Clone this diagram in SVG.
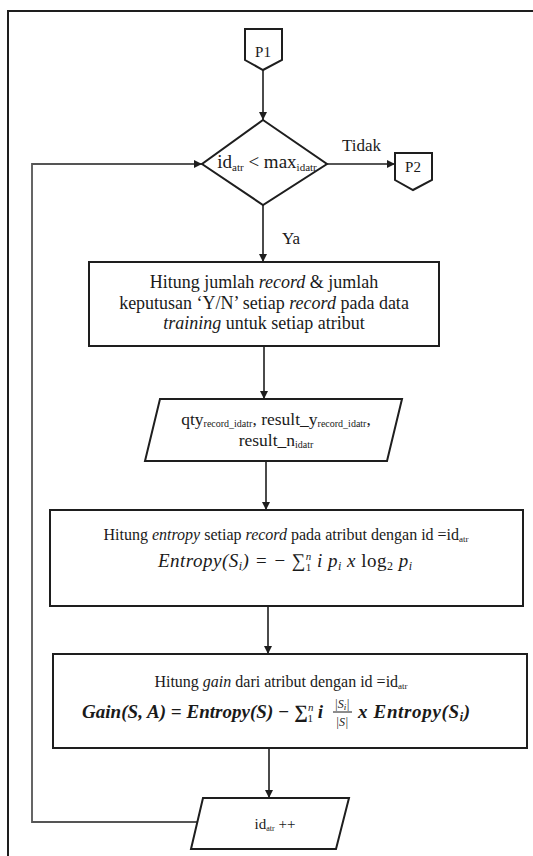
<svg xmlns="http://www.w3.org/2000/svg" width="533" height="856" viewBox="0 0 533 856">
  <style>
    .shape { fill: #ffffff; stroke: #1e1e1e; stroke-width: 2; }
    .wire { fill: none; stroke: #1e1e1e; stroke-width: 1.6; }
    .loop { fill: none; stroke: #555; stroke-width: 1.8; }
    .t { font-family: "Liberation Serif", "Times New Roman", "DejaVu Serif", serif; fill: #1a1a1a; }
    .m { font-family: "Liberation Serif", "Times New Roman", "DejaVu Serif", serif; font-style: italic; fill: #1a1a1a; }
    .i { font-style: italic; }
  </style>
  <defs>
    <marker id="arrow" markerUnits="userSpaceOnUse" markerWidth="9" markerHeight="9" refX="8" refY="4" orient="auto">
      <path d="M0,0 L8,4 L0,8 z" fill="#1e1e1e"/>
    </marker>
  </defs>

  <rect width="533" height="856" fill="#ffffff"/>
  <!-- page frame -->
  <path d="M8,856 V11 H533" fill="none" stroke="#1e1e1e" stroke-width="2"/>

  <!-- connectors -->
  <g id="connectors">
    <path class="wire" d="M263,70 V120" marker-end="url(#arrow)"/>
    <path class="wire" d="M327,164 H395" marker-end="url(#arrow)"/>
    <path class="wire" d="M263,205 V262" marker-end="url(#arrow)"/>
    <path class="wire" d="M264,346 V399" marker-end="url(#arrow)"/>
    <path class="wire" d="M266,461 V510" marker-end="url(#arrow)"/>
    <path class="wire" d="M268,606 V654" marker-end="url(#arrow)"/>
    <path class="wire" d="M269,748 V798" marker-end="url(#arrow)"/>
    <path class="loop" d="M197,822 H32 V164 H202" marker-end="url(#arrow)"/>
    <text class="t" x="342" y="151" font-size="17">Tidak</text>
    <text class="t" x="282" y="244" font-size="17">Ya</text>
  </g>

  <!-- start connector P1 -->
  <g id="p1">
    <path class="shape" d="M245,29 H282 V60 L263,70 L245,60 Z"/>
    <text class="t" x="263" y="57" font-size="15" text-anchor="middle">P1</text>
  </g>

  <!-- decision -->
  <g id="decision">
    <path class="shape" d="M263,120 L327,164 L263,205 L202,164 Z"/>
    <text class="t" x="267" y="168" font-size="19" text-anchor="middle">id<tspan font-size="11" dy="3">atr</tspan><tspan dy="-3"> &lt; max</tspan><tspan font-size="11" dy="3">idatr</tspan></text>
  </g>

  <!-- exit connector P2 -->
  <g id="p2">
    <path class="shape" d="M395,153 H432 V180 L413,190 L395,180 Z"/>
    <text class="t" x="413" y="172" font-size="15" text-anchor="middle">P2</text>
  </g>

  <!-- count records -->
  <g id="count">
    <rect class="shape" x="89" y="262" width="350" height="84"/>
    <text class="t" x="264" y="288" font-size="18" text-anchor="middle">Hitung jumlah <tspan class="i">record</tspan> &amp;  jumlah</text>
    <text class="t" x="264" y="309" font-size="18" text-anchor="middle">keputusan ‘Y/N’ setiap <tspan class="i">record</tspan> pada data</text>
    <text class="t" x="264" y="329" font-size="18" text-anchor="middle"><tspan class="i">training</tspan> untuk setiap atribut</text>
  </g>

  <!-- counted values -->
  <g id="values">
    <path class="shape" d="M160,399 H402 L387,461 H145 Z"/>
    <text class="t" x="276" y="425" font-size="17.5" text-anchor="middle">qty<tspan font-size="10" dy="2">record_idatr</tspan><tspan dy="-2">, result_y</tspan><tspan font-size="10" dy="2">record_idatr</tspan><tspan dy="-2">,</tspan></text>
    <text class="t" x="276" y="446" font-size="17.5" text-anchor="middle">result_n<tspan font-size="10" dy="2">idatr</tspan></text>
  </g>

  <!-- entropy -->
  <g id="entropy">
    <rect class="shape" x="50" y="510" width="473" height="96"/>
    <text class="t" x="286" y="540" font-size="16" text-anchor="middle">Hitung <tspan class="i">entropy</tspan> setiap <tspan class="i">record</tspan> pada atribut dengan id =id<tspan font-size="9" dy="2">atr</tspan></text>
    <text class="m" x="158" y="567" font-size="19" textLength="254">Entropy(S<tspan font-size="12" dy="3">i</tspan><tspan dy="-3">) = − </tspan><tspan font-style="normal">∑</tspan><tspan font-size="11" dy="-7">n</tspan><tspan font-size="11" font-style="normal" dx="-6" dy="11">1</tspan><tspan dy="-4"> i  p</tspan><tspan font-size="12" dy="3">i</tspan><tspan dy="-3"> x  </tspan><tspan font-style="normal">log</tspan><tspan font-size="12" font-style="normal" dy="3">2</tspan><tspan dy="-3"> p</tspan><tspan font-size="12" dy="3">i</tspan></text>
  </g>

  <!-- gain -->
  <g id="gain">
    <rect class="shape" x="53" y="654" width="474" height="94"/>
    <text class="t" x="281" y="687" font-size="16" text-anchor="middle">Hitung <tspan class="i">gain</tspan> dari atribut dengan id =id<tspan font-size="9" dy="2">atr</tspan></text>
    <text class="m" x="82" y="718" font-size="19" font-weight="bold" textLength="241">Gain(S, A) = Entropy(S) − <tspan font-style="normal">∑</tspan><tspan font-size="11" font-weight="normal" dy="-7">n</tspan><tspan font-size="11" font-style="normal" font-weight="normal" dx="-6" dy="11">1</tspan><tspan dy="-4"> i</tspan></text>
    <text class="m" x="342" y="708" font-size="12" text-anchor="middle">|S<tspan font-size="9" dy="2">i</tspan><tspan dy="-2">|</tspan></text>
    <line x1="333" y1="712" x2="352" y2="712" stroke="#1a1a1a" stroke-width="1"/>
    <text class="m" x="342" y="726" font-size="12" text-anchor="middle">|S|</text>
    <text class="m" x="358" y="718" font-size="19" font-weight="bold" textLength="112">x Entropy(S<tspan font-size="12" dy="3">i</tspan><tspan dy="-3">)</tspan></text>
  </g>

  <!-- increment -->
  <g id="increment">
    <path class="shape" d="M203,798 H349 L336,849 H191 Z"/>
    <text class="t" x="275" y="829" font-size="15" text-anchor="middle">id<tspan font-size="8" dy="2">atr</tspan><tspan dy="-2"> ++</tspan></text>
  </g>
</svg>
